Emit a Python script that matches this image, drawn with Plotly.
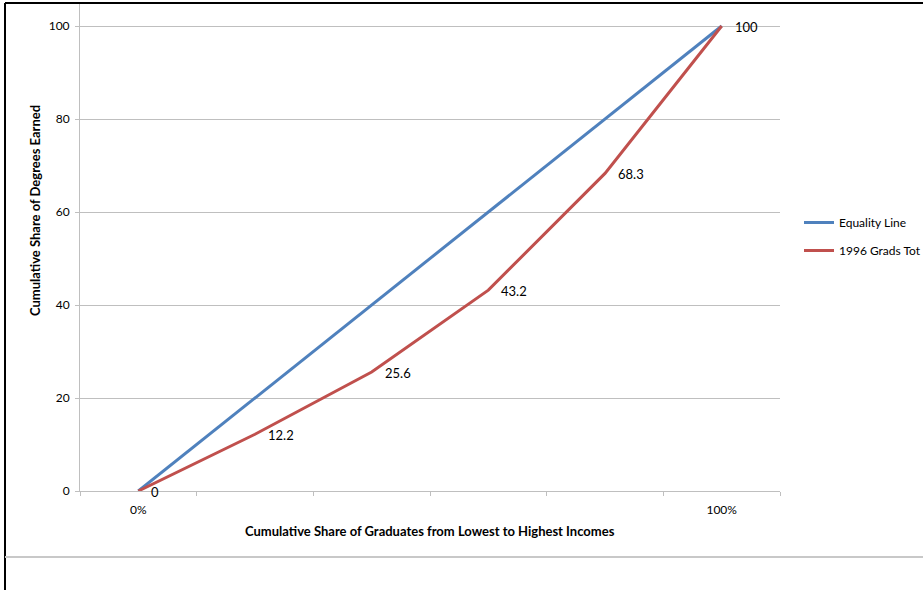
import plotly.graph_objects as go

# Cumulative share of graduates (lowest to highest income) and degrees earned
categories = ["0%", "20%", "40%", "60%", "80%", "100%"]
tick_labels = ["0%", "", "", "", "", "100%"]
equality_line = [0, 20, 40, 60, 80, 100]
grads_1996 = [0, 12.2, 25.6, 43.2, 68.3, 100]

BLUE = "#4F81BD"
RED = "#C0504D"
GRID = "#BFBFBF"
FONT = "Lato"

W, H = 923, 590
L, R, T, B = 80, 143, 4, 99
PW, PH = W - L - R, H - T - B


def px_x(px):
    return (px - L) / PW


def px_y(py):
    return (H - B - py) / PH


fig = go.Figure()
fig.add_trace(go.Scatter(
    x=categories, y=equality_line, mode="lines", name="Equality Line",
    line=dict(color=BLUE, width=3), legendgroup="a",
))
fig.add_trace(go.Scatter(
    x=categories, y=grads_1996, mode="lines", name="1996 Grads Tot",
    line=dict(color=RED, width=3), legendgroup="b",
))

# value labels beside the red series
for c, v in zip(categories, grads_1996):
    fig.add_annotation(
        x=c, y=v, xref="x", yref="y", text=f"{v:g}", showarrow=False,
        xanchor="left", yanchor="middle", xshift=11, yshift=-1,
        font=dict(family=FONT, size=13, color="#000000"),
    )

# axis titles
fig.add_annotation(
    x=0.5, y=px_y(531), xref="paper", yref="paper", showarrow=False,
    text="<b>Cumulative Share of Graduates from Lowest to Highest Incomes</b>",
    font=dict(family=FONT, size=13, color="#000000"),
    xanchor="center", yanchor="middle",
)
fig.add_annotation(
    x=px_x(35), y=px_y(211), xref="paper", yref="paper", showarrow=False,
    text="<b>Cumulative Share of Degrees Earned</b>", textangle=-90,
    font=dict(family=FONT, size=13, color="#000000"),
    xanchor="center", yanchor="middle",
)

# frame lines around the chart
fig.add_shape(type="line", xref="paper", yref="paper",
              x0=px_x(5), x1=px_x(W), y0=px_y(3), y1=px_y(3),
              line=dict(color="#000000", width=2))
fig.add_shape(type="line", xref="paper", yref="paper",
              x0=px_x(5), x1=px_x(5), y0=px_y(H), y1=px_y(3),
              line=dict(color="#000000", width=2))
fig.add_shape(type="line", xref="paper", yref="paper",
              x0=px_x(5), x1=px_x(W), y0=px_y(557), y1=px_y(557),
              line=dict(color="#C8C8C8", width=2))

fig.update_xaxes(
    type="category", categoryorder="array", categoryarray=categories,
    range=[-0.5, len(categories) - 0.5],
    tickmode="array", tickvals=categories, ticktext=tick_labels,
    tickson="boundaries", ticks="outside", ticklen=4, tickcolor=GRID,
    showline=True, linecolor=GRID, linewidth=1, showgrid=False,
    zeroline=False, ticklabelstandoff=8,
    tickfont=dict(family=FONT, size=12, color="#000000"),
)
fig.update_yaxes(
    range=[0, 100 * PH / 465], tickmode="array", tickvals=[0, 20, 40, 60, 80, 100],
    ticks="outside", ticklen=4, tickcolor=GRID,
    showline=True, linecolor=GRID, linewidth=1,
    showgrid=True, gridcolor=GRID, gridwidth=1, zeroline=False,
    ticklabelstandoff=3,
    tickfont=dict(family=FONT, size=12, color="#000000"),
)

fig.update_layout(
    width=W, height=H,
    margin=dict(l=L, r=R, t=T, b=B, autoexpand=False),
    paper_bgcolor="#FFFFFF", plot_bgcolor="#FFFFFF",
    font=dict(family=FONT, size=12, color="#000000"),
    showlegend=True,
    legend=dict(
        x=px_x(799), y=px_y(208), xanchor="left", yanchor="top",
        bgcolor="rgba(0,0,0,0)", tracegroupgap=9,
        font=dict(family=FONT, size=12, color="#000000"),
        itemwidth=30,
    ),
)

fig.write_html("out.html")
